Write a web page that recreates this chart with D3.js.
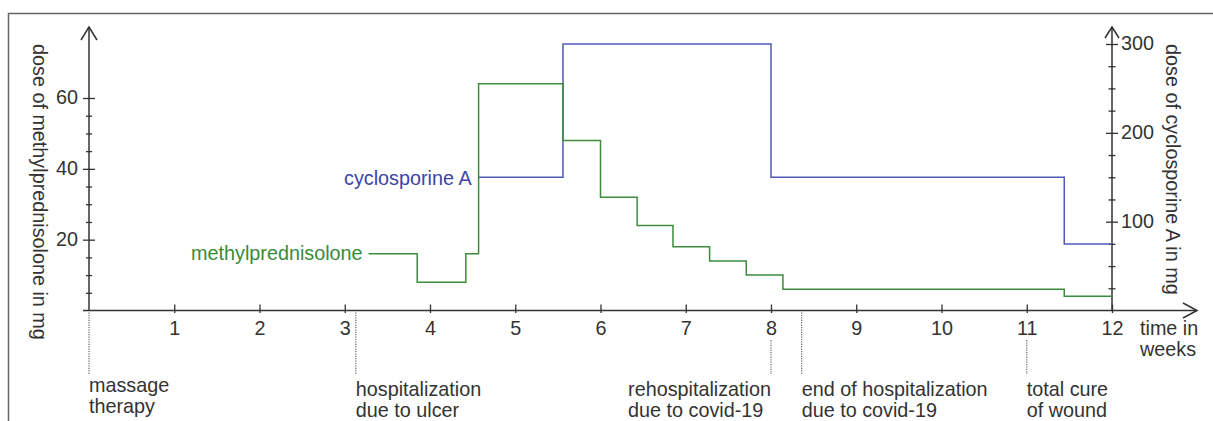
<!DOCTYPE html>
<html>
<head>
<meta charset="utf-8">
<script src="https://cdn.jsdelivr.net/npm/d3@7"></script>
<style>
  body { margin: 0; background: #fff; }
  svg text { font-family: "Liberation Sans", Arial, sans-serif; }
</style>
</head>
<body>
<svg id="chart"></svg>
<script>
// methylprednisolone (left axis, mg) - step starts at each week value
var mpWeeks = [3.28, 3.85, 4.42, 4.57, 5.56, 6.0, 6.43, 6.85, 7.28, 7.71, 8.14, 11.44, 12];
var mpDose  = [16, 8, 16, 64, 48, 32, 24, 18, 14, 10, 6, 4, 4];

// cyclosporine A (right axis, mg)
var csWeeks = [4.57, 5.56, 8.0, 11.44, 12];
var csDose  = [150, 300, 150, 75, 75];

var weekTicks = [1, 2, 3, 4, 5, 6, 7, 8, 9, 10, 11, 12];
var leftTicks = [20, 40, 60];
var leftMinor = [5, 10, 15, 25, 30, 35, 45, 50, 55];
var rightTicks = [100, 200, 300];
var rightMinor = [25, 50, 75, 125, 150, 175, 225, 250, 275];

// events under the time axis
var eventWeeks = [0, 3.13, 8, 8.36, 11];
var eventText = [
    ["massage", "therapy"],
    ["hospitalization", "due to ulcer"],
    ["rehospitalization", "due to covid-19"],
    ["end of hospitalization", "due to covid-19"],
    ["total cure", "of wound"]
];
var eventAlign = ["start", "start", "end", "start", "start"];

var svgWidth = 1213, svgHeight = 421;
var axisColor = "#333", textColor = "#333";
var green = "#3c8c3c", greenText = "#3a8a3a";
var blue = "#5259b5", blueText = "#3d44a8";
var fontSize = "19.8px";

var svg = d3.select("#chart")
    .attr("width", svgWidth)
    .attr("height", svgHeight);

// frame (clipped at right and bottom like the original)
svg.append("rect")
    .attr("x", 8.5).attr("y", 13.5)
    .attr("width", 1220).attr("height", 430)
    .attr("fill", "none")
    .attr("stroke", "#666")
    .attr("stroke-width", 1.5);

var x = d3.scaleLinear().domain([0, 12]).range([89, 1112]);
var yL = d3.scaleLinear().domain([0, 60]).range([310.5, 98]);
var yR = d3.scaleLinear().domain([0, 300]).range([310.5, 44]);
var axisY = yL(0);

// x axis
var gx = svg.append("g")
    .attr("transform", "translate(0," + axisY + ")")
    .call(d3.axisBottom(x).tickValues(weekTicks).tickSize(-6).tickPadding(10));
gx.select(".domain").remove();
gx.selectAll(".tick line").attr("y1", 2.5);

// left axis
var gl = svg.append("g")
    .attr("transform", "translate(" + x(0) + ",0)")
    .call(d3.axisLeft(yL).tickValues(leftTicks).tickSize(6).tickPadding(5));
gl.select(".domain").remove();
gl.selectAll(".tick line").attr("x1", 6);

var glm = svg.append("g")
    .attr("transform", "translate(" + x(0) + ",0)")
    .call(d3.axisLeft(yL).tickValues(leftMinor).tickSize(3).tickFormat(""));
glm.select(".domain").remove();
glm.selectAll(".tick line").attr("x1", 3);

// right axis
var gr = svg.append("g")
    .attr("transform", "translate(" + x(12) + ",0)")
    .call(d3.axisRight(yR).tickValues(rightTicks).tickSize(6).tickPadding(3));
gr.select(".domain").remove();
gr.selectAll(".tick line").attr("x1", -6);

var grm = svg.append("g")
    .attr("transform", "translate(" + x(12) + ",0)")
    .call(d3.axisRight(yR).tickValues(rightMinor).tickSize(3.5).tickFormat(""));
grm.select(".domain").remove();
grm.selectAll(".tick line").attr("x1", -3.5);

svg.selectAll(".tick line")
    .attr("stroke", axisColor)
    .attr("stroke-width", 1.3);
svg.selectAll(".tick text")
    .attr("fill", textColor)
    .style("font-size", fontSize)
    .style("font-family", "'Liberation Sans', Arial, sans-serif");
gl.selectAll(".tick text").attr("dy", "0.3em");
gr.selectAll(".tick text").attr("dy", "0.3em");

// axis lines with arrowheads
var axisLines = svg.append("g")
    .attr("fill", "none")
    .attr("stroke", axisColor)
    .attr("stroke-width", 1.5);

axisLines.append("line")
    .attr("x1", x(0) - 6).attr("x2", 1197)
    .attr("y1", axisY).attr("y2", axisY);
axisLines.append("path")
    .attr("d", "M1183," + (axisY - 7.5) + "L1197," + axisY + "L1183," + (axisY + 7.5));

axisLines.append("line")
    .attr("x1", x(0)).attr("x2", x(0))
    .attr("y1", axisY).attr("y2", 27);
axisLines.append("path")
    .attr("d", "M" + (x(0) - 8) + ",40L" + x(0) + ",27L" + (x(0) + 8) + ",40");

axisLines.append("line")
    .attr("x1", x(12)).attr("x2", x(12))
    .attr("y1", axisY).attr("y2", 27);
axisLines.append("path")
    .attr("d", "M" + (x(12) - 7) + ",38L" + x(12) + ",27L" + (x(12) + 7) + ",38");

// axis titles
svg.append("text")
    .attr("transform", "translate(33,44) rotate(90)")
    .attr("fill", textColor)
    .style("font-size", fontSize)
    .text("dose of methylprednisolone in mg");

svg.append("text")
    .attr("transform", "translate(1166,44) rotate(90)")
    .attr("fill", textColor)
    .style("font-size", fontSize)
    .text("dose of cyclosporine A in mg");

var timeLabel = svg.append("text")
    .attr("x", 1140).attr("y", 335)
    .attr("fill", textColor)
    .style("font-size", fontSize);
timeLabel.append("tspan").attr("x", 1140).text("time in");
timeLabel.append("tspan").attr("x", 1140).attr("dy", 21).text("weeks");

// step lines
var mpData = mpWeeks.map(function(w, i) { return {week: w, dose: mpDose[i]}; });
var csData = csWeeks.map(function(w, i) { return {week: w, dose: csDose[i]}; });

var mpLine = d3.line()
    .x(function(d) { return x(d.week); })
    .y(function(d) { return yL(d.dose); })
    .curve(d3.curveStepAfter);

var csLine = d3.line()
    .x(function(d) { return x(d.week); })
    .y(function(d) { return yR(d.dose); })
    .curve(d3.curveStepAfter);

svg.append("path")
    .datum(csData)
    .attr("fill", "none")
    .attr("stroke", blue)
    .attr("stroke-width", 1.5)
    .attr("d", csLine);

svg.append("path")
    .datum(mpData)
    .attr("fill", "none")
    .attr("stroke", green)
    .attr("stroke-width", 1.5)
    .attr("d", mpLine);

// series labels
svg.append("text")
    .attr("x", x(mpWeeks[0]) - 6)
    .attr("y", yL(mpDose[0]) + 6)
    .attr("text-anchor", "end")
    .attr("fill", greenText)
    .style("font-size", fontSize)
    .text("methylprednisolone");

svg.append("text")
    .attr("x", x(csWeeks[0]) - 7)
    .attr("y", yR(csDose[0]) + 8)
    .attr("text-anchor", "end")
    .attr("fill", blueText)
    .style("font-size", fontSize)
    .text("cyclosporine A");

// events: dotted markers and captions
var events = svg.selectAll(".event")
    .data(eventWeeks)
    .enter()
    .append("g")
    .attr("class", "event");

events.append("line")
    .attr("x1", function(d) { return x(d); })
    .attr("x2", function(d) { return x(d); })
    .attr("y1", function(d) {
        // below the tick label when the event falls on a labelled week
        return (d > 0 && weekTicks.indexOf(d) >= 0) ? 340 : axisY + 2;
    })
    .attr("y2", 374)
    .attr("stroke", "#666")
    .attr("stroke-width", 1.2)
    .attr("stroke-dasharray", "1.2,1.2");

events.append("text")
    .attr("y", function(d, i) { return i === 0 ? 392 : 396; })
    .attr("fill", textColor)
    .style("font-size", fontSize)
    .each(function(d, i) {
        var t = d3.select(this);
        eventText[i].forEach(function(s, j) {
            t.append("tspan")
                .attr("x", x(d))
                .attr("dy", j === 0 ? 0 : 21)
                .text(s);
        });
        // left-aligned block; "end" blocks finish at the marker
        var w = eventAlign[i] === "end" ? this.getBBox().width : 0;
        t.selectAll("tspan").attr("x", x(d) - w);
    });
</script>
</body>
</html>
